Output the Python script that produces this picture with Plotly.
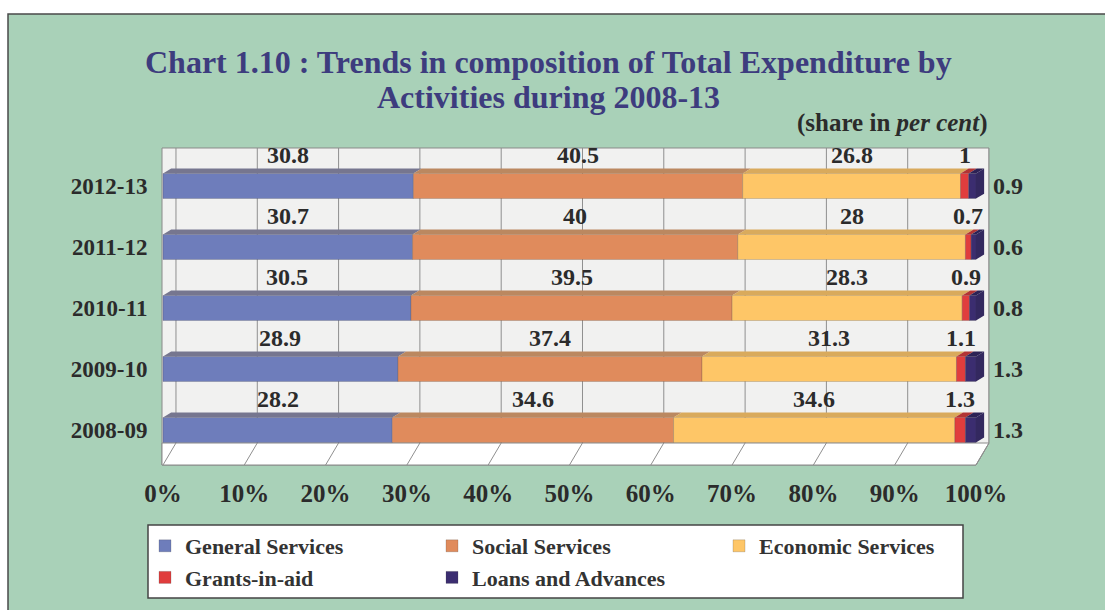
import plotly.graph_objects as go
import numpy as np

# ---------------- data ----------------
years = ['2008-09', '2009-10', '2010-11', '2011-12', '2012-13']
general = [28.2, 28.9, 30.5, 30.7, 30.8]
social = [34.6, 37.4, 39.5, 40.0, 40.5]
economic = [34.6, 31.3, 28.3, 28.0, 26.8]
grants = [1.3, 1.1, 0.9, 0.7, 1.0]
loans = [1.3, 1.3, 0.8, 0.6, 0.9]
series_names = ['General Services', 'Social Services', 'Economic Services',
                'Grants-in-aid', 'Loans and Advances']
x_ticks = list(range(0, 101, 10))
x_ticklabels = [f'{t}%' for t in x_ticks]
title_lines = ['Chart 1.10 : Trends in composition of Total Expenditure by',
               'Activities during 2008-13']

# ---------------- styling ----------------
W, H = 1105, 610
FONT = 'Liberation Serif'
TXT = '#2b2b2b'
front_cols = ['#6e7dbb', '#e08b5c', '#fec667', '#e03d3d', '#3b2d70']
top_cols = ['#76768f', '#bb8860', '#d9aa5c', '#b23434', '#2c2255']
side_col = '#33285f'
BG = '#a9d1b8'


def px(x):
    return x / W


def py(y):
    return 1 - y / H


BW = 0.41      # bar thickness (category units)
DX, DY = 1.0, 0.08   # 3D depth of bars
GX = 1.6       # back-wall offset of gridlines (x units)
YB, YT = -0.574, 4.623
FB = -0.213    # floor back edge
XR = [-0.12, 101.6]

series = [general, social, economic, grants, loans]
vals = np.array(series, dtype=float)
bases = np.vstack([np.zeros(len(years)), np.cumsum(vals, axis=0)[:-1]])
idx = np.arange(len(years))

fig = go.Figure()

for k, name in enumerate(series_names):
    fig.add_trace(go.Bar(
        y=idx, x=vals[k], base=bases[k], orientation='h', width=BW,
        name=name, marker=dict(color=front_cols[k],
                               line=dict(width=0.6, color='rgba(60,60,60,0.35)')),
        hoverinfo='skip'))

# top faces of the 3D bars
for k in range(len(series_names)):
    xs, ys = [], []
    for i in idx:
        b, v = bases[k][i], vals[k][i]
        yt = i + BW / 2
        xs += [b, b + v, b + v + DX, b + DX, b, None]
        ys += [yt, yt, yt + DY, yt + DY, yt, None]
    fig.add_trace(go.Scatter(x=xs, y=ys, mode='lines', fill='toself',
                             fillcolor=top_cols[k], line=dict(width=0),
                             showlegend=False, hoverinfo='skip'))

# side face at end of each stack
totals = bases[-1] + vals[-1]
xs, ys = [], []
for i in idx:
    t = totals[i]
    xs += [t, t + DX, t + DX, t, t, None]
    ys += [i - BW / 2, i - BW / 2 + DY, i + BW / 2 + DY, i + BW / 2, i - BW / 2, None]
fig.add_trace(go.Scatter(x=xs, y=ys, mode='lines', fill='toself',
                         fillcolor=side_col, line=dict(width=0),
                         showlegend=False, hoverinfo='skip'))

# ---------------- shapes (frame, walls, gridlines) ----------------
shapes = []
shapes.append(dict(type='rect', xref='paper', yref='paper',
                   x0=px(8), x1=px(1120), y0=py(630), y1=py(14),
                   fillcolor=BG, line=dict(color='#4a4a4a', width=1.5),
                   layer='below'))


def ppath(points):
    return 'M' + ' L'.join(f'{px(a):.5f},{py(b):.5f}' for a, b in points) + ' Z'


shapes.append(dict(type='path', xref='paper', yref='paper',
                   path=ppath([(162, 148), (989, 148), (989, 443), (976, 465), (162, 465)]),
                   fillcolor='#f1f1f0', line=dict(color='#8a8a8a', width=1),
                   layer='below'))
shapes.append(dict(type='path', xref='paper', yref='paper',
                   path=ppath([(162, 443), (989, 443), (976, 465), (162, 465)]),
                   fillcolor='#ffffff', line=dict(color='#8a8a8a', width=1),
                   layer='below'))
for t in x_ticks:
    shapes.append(dict(type='line', xref='x', yref='y', x0=t + GX, x1=t + GX,
                       y0=FB, y1=YT, line=dict(color='#8f8f8f', width=1),
                       layer='below'))
    shapes.append(dict(type='line', xref='x', yref='y', x0=t, x1=t + GX,
                       y0=YB, y1=FB, line=dict(color='#8f8f8f', width=1),
                       layer='below'))
# legend box
shapes.append(dict(type='rect', xref='paper', yref='paper',
                   x0=px(148), x1=px(963), y0=py(598), y1=py(525),
                   fillcolor='white', line=dict(color='#444444', width=1.5),
                   layer='below'))

# ---------------- annotations ----------------
def fmt(v):
    return f'{v:g}'


LBL = dict(size=24, color=TXT, family=FONT, weight='bold')
ann = []
for k in range(4):
    for i in idx:
        ann.append(dict(x=bases[k][i] + vals[k][i] / 2, y=i, xref='x', yref='y',
                        text=fmt(vals[k][i]), showarrow=False, yshift=31,
                        font=LBL))
for i in idx:
    ann.append(dict(x=totals[i], y=i, xref='x', yref='y', text=fmt(vals[4][i]),
                    showarrow=False, xanchor='left', xshift=15, font=LBL))

TFONT = dict(size=32, color='#3d3c7e', family=FONT, weight='bold')
for line, yc in zip(title_lines, [62, 97]):
    ann.append(dict(x=px(548), y=py(yc), xref='paper', yref='paper',
                    text=line, showarrow=False, xanchor='center',
                    yanchor='middle', font=TFONT))
ann.append(dict(x=px(990), y=py(123), xref='paper', yref='paper',
                text='(share in <i>per cent</i>)', showarrow=False,
                xanchor='right', yanchor='middle',
                font=dict(size=25, color=TXT, family=FONT, weight='bold')))

fig.update_layout(
    width=W, height=H, margin=dict(l=0, r=0, t=0, b=0, autoexpand=False),
    paper_bgcolor='white', plot_bgcolor='rgba(0,0,0,0)',
    barmode='overlay', shapes=shapes, annotations=ann,
    font=dict(family=FONT, color=TXT, weight='bold'),
    xaxis=dict(domain=[px(162), px(989)], range=XR, tickvals=x_ticks,
               ticktext=x_ticklabels, showgrid=False, zeroline=False,
               showline=False, ticks='outside', ticklen=6,
               tickcolor='rgba(0,0,0,0)',
               tickfont=dict(size=25, color=TXT, family=FONT, weight='bold')),
    yaxis=dict(domain=[py(465), py(148)], range=[YB, YT], tickvals=idx,
               ticktext=years, showgrid=False, zeroline=False, showline=False,
               ticks='outside', ticklen=9, tickcolor='rgba(0,0,0,0)',
               tickfont=dict(size=23, color=TXT, family=FONT, weight='bold')),
    legend=dict(orientation='h', x=px(145), y=py(525), xanchor='left',
                yanchor='top', entrywidth=242, entrywidthmode='pixels',
                bgcolor='rgba(0,0,0,0)', borderwidth=0, traceorder='normal',
                font=dict(size=22, color='#333333', family=FONT, weight='bold')),
    showlegend=True,
)

fig.write_html('out.html')
